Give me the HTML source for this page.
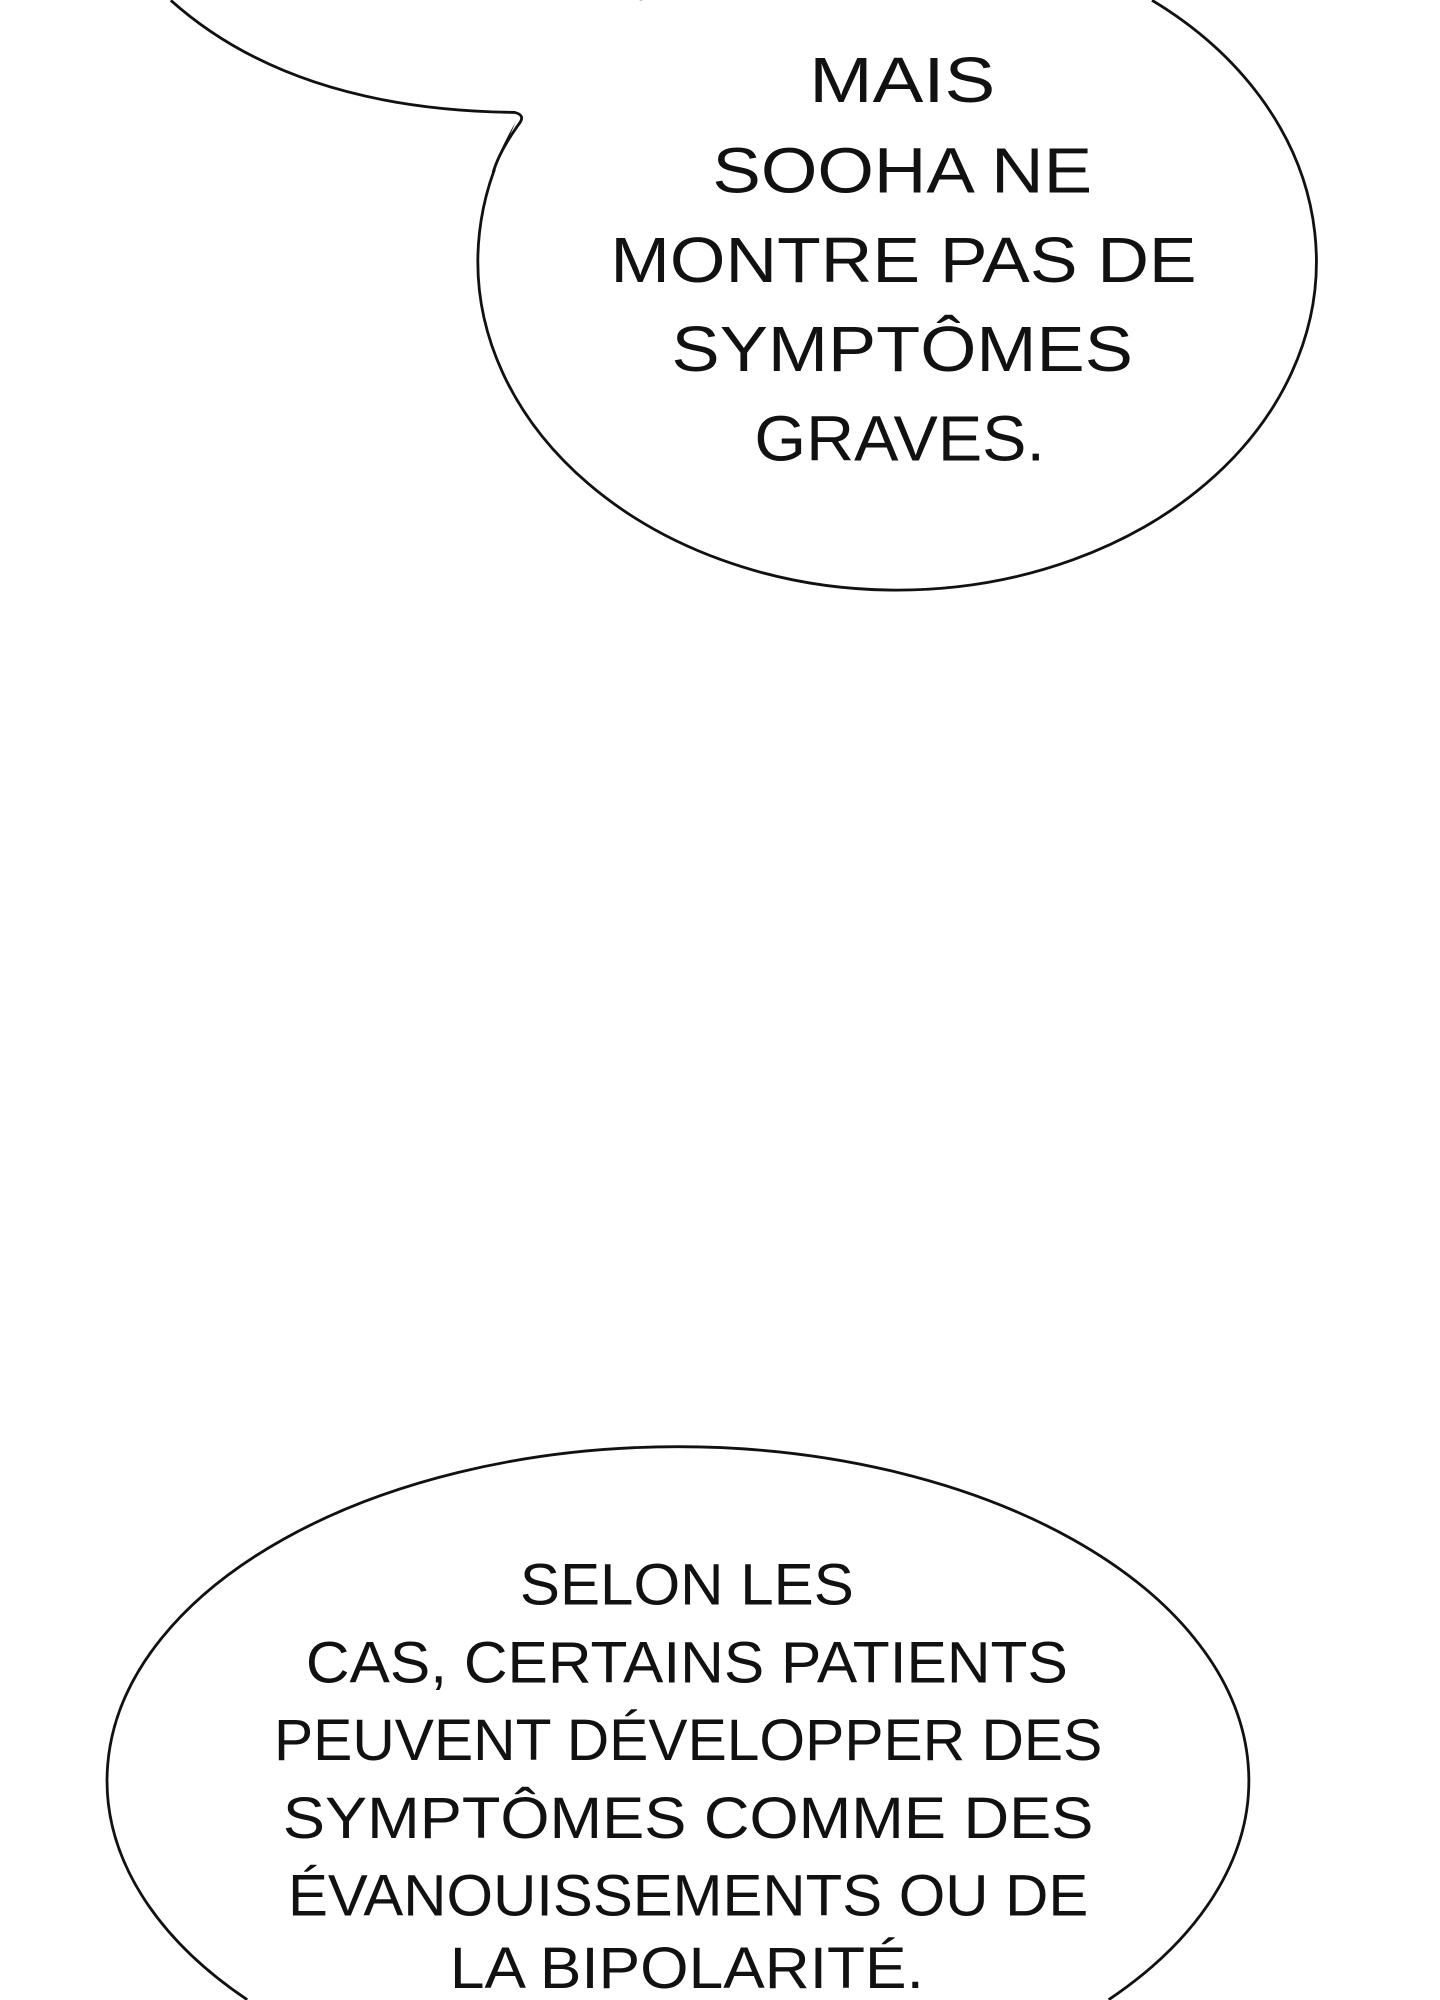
<!DOCTYPE html>
<html><head><meta charset="utf-8"><style>
html,body{margin:0;padding:0;background:#fff;width:1440px;height:2000px;overflow:hidden;}
svg{display:block;overflow:hidden;}
text{font-family:"Liberation Sans",sans-serif;fill:#111;text-anchor:middle;}
</style></head><body>
<svg width="1440" height="2000" viewBox="0 0 1130 1569" xmlns="http://www.w3.org/2000/svg">
<rect width="1130" height="1569" fill="#fff"/>
<path d="M504 0 A329 258 0 1 0 904 0" fill="#fff" stroke="#111" stroke-width="2.2"/>
<path d="M130 0 Q230 88 408 88 L388 133 L430 140 L545 40 L560 0 Z" fill="#fff"/>
<path d="M134 0 Q230 86 404 88 Q412 90 408 96 Q392 118 387 135" fill="none" stroke="#111" stroke-width="2.2" stroke-linejoin="round"/>
<g font-size="50">
<text x="708" y="80" textLength="146" lengthAdjust="spacingAndGlyphs">MAIS</text>
<text x="708" y="151" textLength="298" lengthAdjust="spacingAndGlyphs">SOOHA NE</text>
<text x="709" y="221" textLength="460" lengthAdjust="spacingAndGlyphs">MONTRE PAS DE</text>
<text x="708" y="291" textLength="362" lengthAdjust="spacingAndGlyphs">SYMPTÔMES</text>
<text x="706" y="361" textLength="228" lengthAdjust="spacingAndGlyphs">GRAVES.</text>
</g>
<path d="M194 1569 A448 262 0 1 1 870 1569" fill="#fff" stroke="#111" stroke-width="2.2"/>
<g font-size="46">
<text x="539" y="1259" textLength="262" lengthAdjust="spacingAndGlyphs">SELON LES</text>
<text x="539" y="1320" textLength="598" lengthAdjust="spacingAndGlyphs">CAS, CERTAINS PATIENTS</text>
<text x="540" y="1381" textLength="650" lengthAdjust="spacingAndGlyphs">PEUVENT DÉVELOPPER DES</text>
<text x="540" y="1442" textLength="636" lengthAdjust="spacingAndGlyphs">SYMPTÔMES COMME DES</text>
<text x="540" y="1503" textLength="628" lengthAdjust="spacingAndGlyphs">ÉVANOUISSEMENTS OU DE</text>
<text x="539" y="1560" textLength="372" lengthAdjust="spacingAndGlyphs">LA BIPOLARITÉ.</text>
</g>
</svg>
</body></html>
